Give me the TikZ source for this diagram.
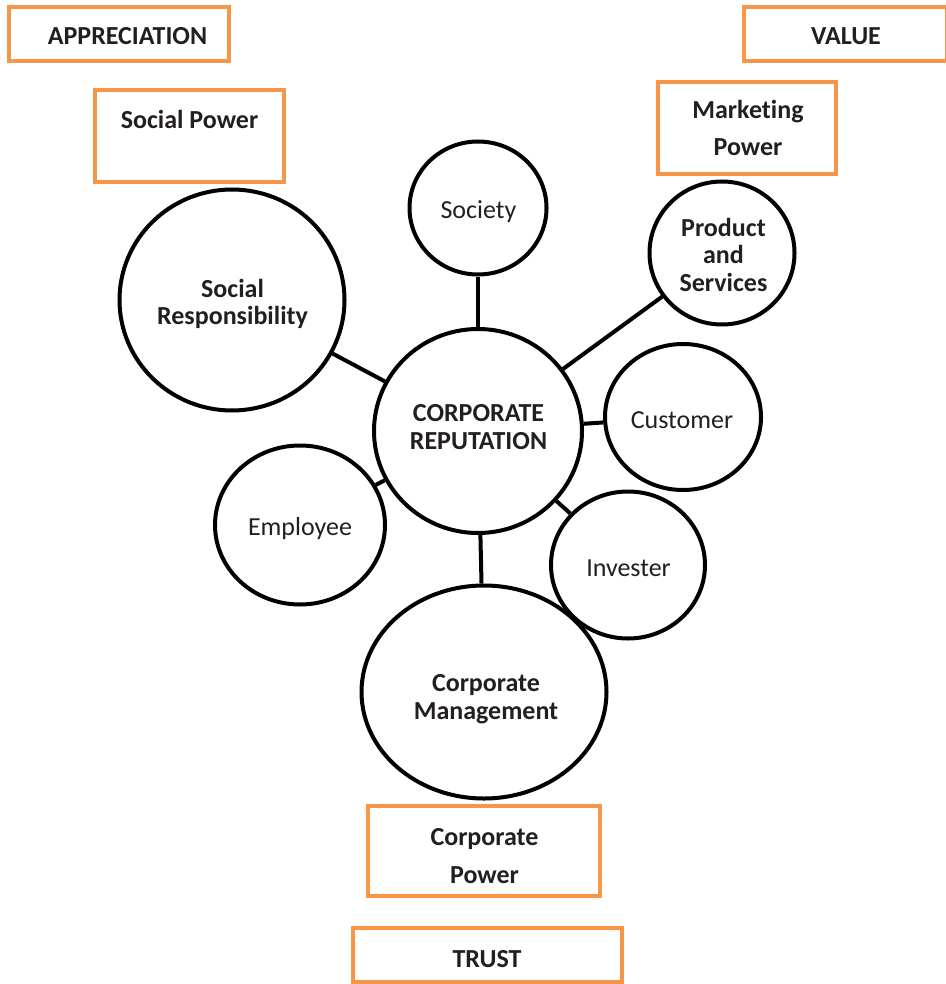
\documentclass[tikz,border=0pt]{standalone}
\usepackage{fontspec}
\setmainfont{Carlito}[Ligatures={NoCommon}]
\usetikzlibrary{shapes.geometric}
\definecolor{boxorange}{HTML}{F79646}
\definecolor{inkdark}{HTML}{231F20}
\begin{document}
\begin{tikzpicture}[x=1pt,y=-1pt,
  bubble/.style={ellipse,draw=black,line width=4pt,fill=white,inner sep=0pt},
  tagbox/.style={rectangle,draw=boxorange,line width=4pt,fill=white,inner sep=0pt},
  plain/.style={text=inkdark,align=center,inner sep=0pt,font=\fontsize{26}{28}\selectfont},
  strong/.style={text=inkdark,align=center,inner sep=0pt,font=\bfseries\fontsize{26}{27.5}\selectfont},
  tagtext/.style={text=inkdark,align=center,inner sep=0pt,font=\bfseries\fontsize{26}{37.5}\selectfont},
  link/.style={line width=4pt,draw=black}]
\useasboundingbox[fill=white] (0,0) rectangle (945,984);

% orange frames
\node[tagbox,minimum width=220,minimum height=54] (appr) at (119,34) {};
\node[tagbox,minimum width=203,minimum height=54] (value) at (845.5,34) {};
\node[tagbox,minimum width=189,minimum height=92] (socpow) at (189.5,136) {};
\node[tagbox,minimum width=178,minimum height=92] (mktpow) at (747,128) {};
\node[tagbox,minimum width=232,minimum height=90] (corppow) at (484,851) {};
\node[tagbox,minimum width=269,minimum height=54] (trust) at (487.5,955) {};

% frame captions
\node[tagtext] (appr-t) at (127.5,36) {APPRECIATION};
\node[tagtext] (value-t) at (846,36) {VALUE};
\node[tagtext] (socpow-t) at (189.5,119) {Social Power};
\node[tagtext] (mktpow-t) at (748,128) {Marketing\\Power};
\node[tagtext] (corppow-t) at (484.5,856) {Corporate\\Power};
\node[tagtext] (trust-t) at (487,959) {TRUST};

% bubbles
\node[bubble,minimum width=137,minimum height=133] (society) at (478,208) {};
\node[bubble,minimum width=225,minimum height=221] (socresp) at (232,300) {};
\node[bubble,minimum width=145,minimum height=143] (product) at (722,253) {};
\node[bubble,minimum width=208,minimum height=204] (corprep) at (478,431) {};
\node[bubble,minimum width=156,minimum height=146] (customer) at (683,417) {};
\node[bubble,minimum width=170,minimum height=159] (employee) at (300,525) {};
\node[bubble,minimum width=154,minimum height=147] (invester) at (628,565) {};
\node[bubble,minimum width=245,minimum height=213] (corpmgmt) at (484,692) {};

% bubble captions
\node[plain] (society-t) at (478.5,212) {Society};
\node[strong] (socresp-t) at (232.5,304) {Social\\Responsibility};
\node[strong] (product-t) at (723.5,254.5) {Product\\and\\Services};
\node[strong] (corprep-t) at (478.5,427) {CORPORATE\\REPUTATION};
\node[plain] (customer-t) at (682,420) {Customer};
\node[plain] (employee-t) at (300,529) {Employee};
\node[plain] (invester-t) at (628.5,568) {Invester};
\node[strong] (corpmgmt-t) at (486,699) {Corporate\\Management};

% spokes to the central bubble
\draw[link] (society) -- (corprep);
\draw[link] (socresp) -- (corprep);
\draw[link] (product) -- (corprep);
\draw[link] (customer) -- (corprep);
\draw[link] (employee) -- (corprep);
\draw[link] (invester) -- (corprep);
\draw[link] (corpmgmt) -- (corprep);
\end{tikzpicture}
\end{document}
